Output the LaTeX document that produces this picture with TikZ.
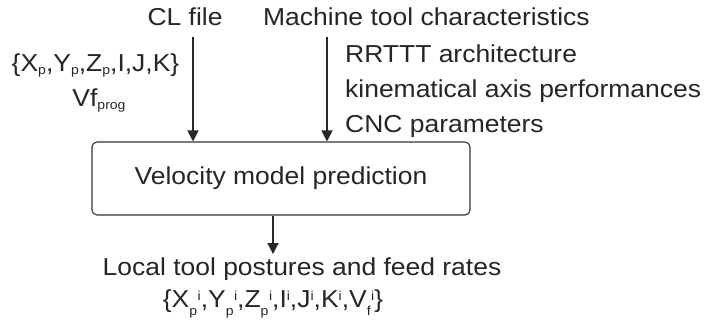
\documentclass[tikz,border=0pt]{standalone}
\usepackage{fontspec}
\setmainfont{Liberation Sans}[FakeStretch=1.08]
\usetikzlibrary{arrows.meta}
\newcommand\subfnt{\fontsize{13bp}{13bp}\selectfont}
\newcommand\lowsub[1]{\raisebox{-3bp}{\subfnt #1}}
\newcommand\deepsub[1]{\raisebox{-8bp}{\subfnt #1}}
\newcommand\hisup[1]{\raisebox{6.5bp}{\subfnt #1}}
\newcommand\subsup[2]{\deepsub{#1}\kern0.5bp\hisup{#2}}
\begin{document}
\begin{tikzpicture}[x=1bp,y=-1bp,
  txt/.style={inner sep=0pt, font=\fontsize{24.5bp}{30bp}\selectfont, text=black!85},
  procbox/.style={draw=black!80, line width=1.1bp, rounded corners=5bp, minimum width=378bp, minimum height=73bp, inner sep=0pt, font=\fontsize{24.5bp}{30bp}\selectfont, text=black!85},
  arr/.style={draw=black!85, line width=1.2bp, -{Triangle[width=11bp,length=11bp]}}]
\fill[white] (0,0) rectangle (706,326);
\useasboundingbox (0,0) rectangle (706,326);
\node[txt, anchor=base] (cl) at (185,25) {CL file};
\node[txt, anchor=base west] (mtc) at (263,25) {Machine tool characteristics};
\node[txt, anchor=base] (pts) at (95.5,71) {\{X\lowsub{p},Y\lowsub{p},Z\lowsub{p},I,J,K\}};
\node[txt, anchor=base] (vf) at (99,106) {Vf\lowsub{prog}};
\node[txt, anchor=base west] (rr) at (345,62) {RRTTT architecture};
\node[txt, anchor=base west] (kin) at (345,97) {kinematical axis performances};
\node[txt, anchor=base west] (cnc) at (345,132) {CNC parameters};
\node[procbox] (vm) at (281,178.5) {Velocity model prediction};
\node[txt, anchor=base] (local) at (302,275) {Local tool postures and feed rates};
\node[txt, anchor=base] (res) at (273,307) {\{X\subsup{p}{i},Y\subsup{p}{i},Z\subsup{p}{i},I\hisup{i},J\hisup{i},K\hisup{i},V\subsup{f}{i}\}};
\coordinate (clstart) at (193,37);
\coordinate (mtstart) at (327,37);
\coordinate (outtip) at (273,254);
\draw[arr] (clstart) -- (clstart |- vm.north);
\draw[arr] (mtstart) -- (mtstart |- vm.north);
\draw[arr] (vm.south -| outtip) -- (outtip);
\end{tikzpicture}
\end{document}
